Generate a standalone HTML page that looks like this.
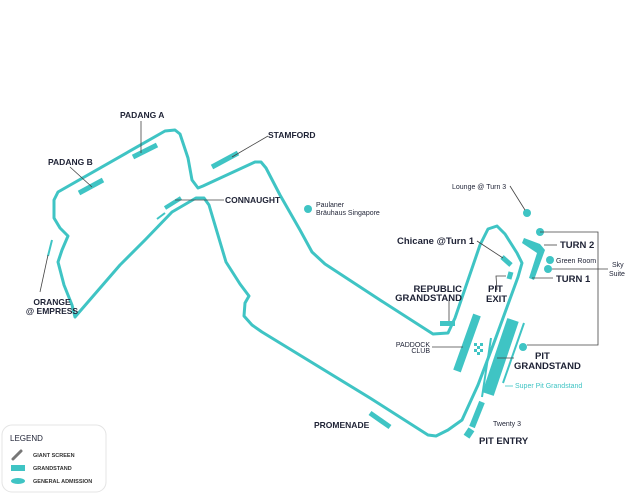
<!DOCTYPE html>
<html><head><meta charset="utf-8"><style>
html,body{margin:0;padding:0;background:#fff;}
svg{display:block;font-family:"Liberation Sans",Arial,sans-serif;}
.t{fill:none;stroke:#3fc4c4;stroke-width:3;stroke-linejoin:round;stroke-linecap:round;}
.s{stroke:#3fc4c4;stroke-linecap:butt;}
.l{stroke:#444;stroke-width:0.8;fill:none;}
.b{font-weight:bold;fill:#1e2235;}
.sm{font-size:7px;fill:#1e2235;}
</style></head><body>
<svg width="630" height="500" viewBox="0 0 630 500">
<!-- track -->
<path class="t" d="M75,317 L72,305 L64,285 L58,262 L62,250 L68,236 L60,228 L54,218 L54,200 L58,192 L165,131 L175,130 L180,134 L188,158 L192,180 L198,188 L203,186 L255,162 L261,162 L266,168 L280,195 L300,230 L312,252 L325,264 L380,300 L433,334 L448,333 L455,318 L480,245 L488,229 L497,226 L505,234 L517,253 L522,263 L518,277 L495,340 L478,385 L462,420 L448,430 L436,436 L428,435 L370,398 L262,332 L252,325 L244,316 L245,303 L249,296 L240,284 L226,262 L209,205 L204,198 L196,198 L172,212 L145,240 L120,265 Z"/>
<!-- pit lane -->
<line x1="491" y1="338" x2="482" y2="397" stroke="#3fc4c4" stroke-width="2"/>
<!-- stands -->
<g class="s">
<line x1="133" y1="157" x2="157" y2="145" stroke-width="5"/>
<line x1="79" y1="193" x2="103" y2="180" stroke-width="5"/>
<line x1="212" y1="167" x2="238" y2="153" stroke-width="5"/>
<line x1="165" y1="208" x2="181" y2="198" stroke-width="4"/>
<line x1="157" y1="219" x2="165" y2="213" stroke-width="2"/>
<line x1="52" y1="240" x2="48" y2="256" stroke-width="2"/>
<line x1="370" y1="413" x2="390" y2="427" stroke-width="5"/>
<line x1="440" y1="323.5" x2="455" y2="323.5" stroke-width="5"/>
<line x1="477" y1="315" x2="457" y2="371" stroke-width="8"/>
<line x1="513" y1="320" x2="488" y2="394" stroke-width="12"/>
<line x1="524" y1="323" x2="503" y2="383" stroke-width="2"/>
<line x1="482" y1="402" x2="472" y2="427" stroke-width="6"/>
<line x1="467" y1="429" x2="471" y2="437" stroke-width="7" transform="rotate(60 469 433)"/>
<line x1="502" y1="257" x2="511" y2="265" stroke-width="5"/>
<line x1="511" y1="272" x2="509" y2="279" stroke-width="5"/>
<path d="M524,238 L540,244 L545,250 L534,280 L529,278 L537,253 L522,243 Z" fill="#3fc4c4" stroke="none"/>
</g>
<g fill="#3fc4c4">
<circle cx="527" cy="213" r="4"/><circle cx="540" cy="232" r="4"/><circle cx="550" cy="260" r="4"/>
<circle cx="548" cy="269" r="4"/><circle cx="523" cy="347" r="4"/><circle cx="308" cy="209" r="4"/>
<rect x="474" y="343" width="3" height="3"/><rect x="480" y="343" width="3" height="3"/>
<rect x="477" y="346" width="3" height="3"/><rect x="474" y="349" width="3" height="3"/>
<rect x="480" y="349" width="3" height="3"/><rect x="477" y="352" width="3" height="3"/>
</g>
<!-- leaders -->
<g class="l">
<line x1="141" y1="153" x2="141" y2="121"/>
<line x1="92" y1="187" x2="70" y2="167"/>
<line x1="232" y1="157" x2="268" y2="136"/>
<line x1="175" y1="200" x2="224" y2="200"/>
<line x1="40" y1="292" x2="48" y2="255"/>
<line x1="510" y1="186" x2="525" y2="210"/>
<line x1="477" y1="241" x2="503" y2="258"/>
<polyline points="497,290 496,276 506,276"/>
<line x1="449" y1="300" x2="449" y2="321"/>
<line x1="432" y1="347" x2="463" y2="347"/>
<polyline points="540,232 598,232 598,345 527,345"/>
<line x1="552" y1="269" x2="608" y2="269"/>
<line x1="544" y1="245" x2="557" y2="245"/>
<line x1="532" y1="278" x2="553" y2="278"/>
<line x1="497" y1="358" x2="514" y2="358"/>
</g>
<line x1="505" y1="386" x2="513" y2="386" stroke="#3fc4c4" stroke-width="0.8"/>
<!-- labels -->
<g font-size="8.5" class="b">
<text x="120" y="118">PADANG A</text>
<text x="48" y="165">PADANG B</text>
<text x="268" y="138">STAMFORD</text>
<text x="225" y="203">CONNAUGHT</text>
<text x="52" y="305" text-anchor="middle">ORANGE</text>
<text x="52" y="314" text-anchor="middle">@ EMPRESS</text>
<text x="314" y="428">PROMENADE</text>
</g>
<g font-size="9.5" class="b">
<text x="397" y="244">Chicane @Turn 1</text>
<text x="462" y="292" text-anchor="end">REPUBLIC</text>
<text x="462" y="301" text-anchor="end">GRANDSTAND</text>
<text x="488" y="292">PIT</text>
<text x="486" y="302">EXIT</text>
<text x="560" y="248">TURN 2</text>
<text x="556" y="282">TURN 1</text>
<text x="535" y="359">PIT</text>
<text x="514" y="369">GRANDSTAND</text>
<text x="479" y="444">PIT ENTRY</text>
</g>
<g class="sm">
<text x="452" y="189">Lounge @ Turn 3</text>
<text x="556" y="263">Green Room</text>
<text x="612" y="267">Sky</text>
<text x="609" y="276">Suite</text>
<text x="316" y="207">Paulaner</text>
<text x="316" y="215">Bräuhaus Singapore</text>
<text x="430" y="347" text-anchor="end">PADDOCK</text>
<text x="430" y="353" text-anchor="end">CLUB</text>
<text x="493" y="426">Twenty 3</text>
<text x="515" y="388" fill="#3fc4c4" style="fill:#3fc4c4">Super Pit Grandstand</text>
</g>
<!-- legend -->
<rect x="2" y="425" width="104" height="67" rx="10" fill="#fff" stroke="#e4e4e4"/>
<text x="10" y="441" font-size="8" class="b" style="font-weight:normal">LEGEND</text>
<line x1="13" y1="459" x2="21" y2="451" stroke="#777" stroke-width="3" stroke-linecap="round"/>
<rect x="11" y="465" width="14" height="6" fill="#3fc4c4"/>
<ellipse cx="18" cy="481" rx="7" ry="3" fill="#3fc4c4"/>
<g font-size="5.5" font-weight="bold" fill="#333">
<text x="33" y="457">GIANT SCREEN</text>
<text x="33" y="470">GRANDSTAND</text>
<text x="33" y="483">GENERAL ADMISSION</text>
</g>
</svg>
</body></html>
